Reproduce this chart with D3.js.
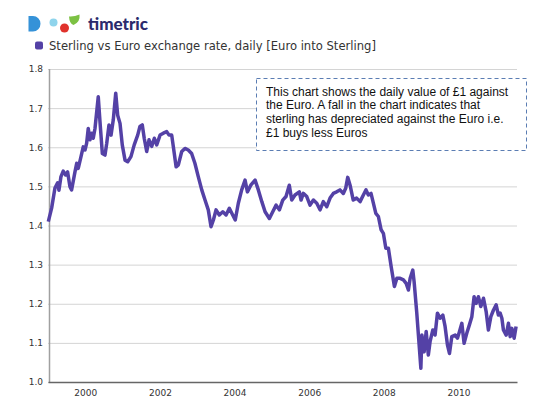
<!DOCTYPE html>
<html>
<head>
<meta charset="utf-8">
<script src="https://cdn.jsdelivr.net/npm/d3@7"></script>
<style>
html,body{margin:0;padding:0;background:#fff;}
svg{display:block;}
</style>
</head>
<body>
<svg id="chart" width="552" height="410"></svg>
<script>
const seriesName = "Sterling vs Euro exchange rate, daily [Euro into Sterling]";
const annotationLines = [
  "This chart shows the daily value of £1 against",
  "the Euro. A fall in the chart indicates that",
  "sterling has depreciated against the Euro i.e.",
  "£1 buys less Euros"
];
const yTicks = [1.0,1.1,1.2,1.3,1.4,1.5,1.6,1.7,1.8];
const xTickYears = [2000,2002,2004,2006,2008,2010];

const dates = [
"1999-01-04","1999-02-06","1999-03-10","1999-04-05","1999-04-18","1999-05-08","1999-05-30","1999-06-23","1999-07-12","1999-08-04",
"1999-08-20","1999-09-22","1999-10-09","1999-10-24","1999-11-20","1999-12-12","1999-12-29","2000-01-14","2000-01-30","2000-02-16",
"2000-03-04","2000-03-19","2000-04-05","2000-05-07","2000-05-24","2000-06-16","2000-07-12","2000-07-29","2000-08-20","2000-09-09",
"2000-10-01","2000-10-25","2000-11-13","2000-12-06","2000-12-28","2001-01-24","2001-02-19","2001-03-23","2001-04-24","2001-05-28",
"2001-06-19","2001-07-12","2001-07-31","2001-08-24","2001-09-16","2001-10-12","2001-11-07","2001-11-30","2002-01-02","2002-02-03",
"2002-03-08","2002-03-31","2002-04-26","2002-05-12","2002-06-08","2002-06-30","2002-08-02","2002-09-03","2002-10-05","2002-11-07",
"2002-12-09","2003-01-11","2003-02-14","2003-03-18","2003-04-19","2003-05-16","2003-06-08","2003-07-04","2003-08-05","2003-09-08",
"2003-10-10","2003-11-11","2003-12-14","2004-01-08","2004-02-07","2004-03-11","2004-04-13","2004-05-06","2004-06-08","2004-07-20",
"2004-08-21","2004-09-24","2004-10-26","2004-12-07","2005-01-09","2005-02-11","2005-03-15","2005-04-17","2005-05-19","2005-06-20",
"2005-07-14","2005-08-15","2005-09-26","2005-10-13","2005-11-04","2005-12-08","2006-01-09","2006-02-11","2006-03-16","2006-04-17",
"2006-05-19","2006-06-22","2006-07-24","2006-08-25","2006-09-27","2006-10-29","2006-12-01","2006-12-24","2007-01-13","2007-02-05",
"2007-03-08","2007-04-10","2007-05-14","2007-06-15","2007-07-11","2007-08-03","2007-08-29","2007-09-21","2007-10-15","2007-11-09",
"2007-12-06","2007-12-28","2008-01-21","2008-02-15","2008-03-13","2008-04-14","2008-05-08","2008-06-09","2008-07-11","2008-08-07",
"2008-08-29","2008-09-15","2008-10-11","2008-10-24","2008-11-19","2008-12-05","2008-12-29","2009-01-08","2009-01-30","2009-02-19",
"2009-03-12","2009-03-29","2009-04-25","2009-05-17","2009-06-09","2009-07-05","2009-08-01","2009-08-23","2009-09-15","2009-10-05",
"2009-10-28","2009-11-30","2009-12-22","2010-01-11","2010-02-03","2010-02-25","2010-03-24","2010-04-18","2010-05-12","2010-06-03",
"2010-06-23","2010-07-15","2010-08-08","2010-09-03","2010-09-29","2010-10-21","2010-11-14","2010-12-10","2011-01-05","2011-01-27",
"2011-02-13","2011-03-02","2011-03-17","2011-04-13","2011-05-05","2011-05-22","2011-06-08","2011-06-30","2011-07-19"
];
const rates = [
1.410,1.445,1.496,1.509,1.490,1.525,1.539,1.529,1.537,1.499,
1.491,1.537,1.559,1.546,1.576,1.601,1.593,1.610,1.648,1.619,
1.636,1.623,1.648,1.729,1.665,1.584,1.580,1.610,1.657,1.631,
1.670,1.738,1.682,1.661,1.606,1.567,1.563,1.576,1.606,1.631,
1.653,1.657,1.623,1.589,1.619,1.602,1.623,1.606,1.631,1.636,
1.640,1.631,1.631,1.601,1.550,1.555,1.589,1.597,1.593,1.584,
1.559,1.525,1.491,1.465,1.440,1.397,1.414,1.440,1.427,1.435,
1.427,1.444,1.427,1.414,1.457,1.491,1.516,1.486,1.503,1.516,
1.491,1.461,1.435,1.418,1.435,1.452,1.440,1.465,1.474,1.503,
1.465,1.478,1.486,1.465,1.482,1.474,1.452,1.465,1.457,1.440,
1.461,1.448,1.470,1.482,1.486,1.491,1.482,1.495,1.523,1.503,
1.465,1.470,1.461,1.478,1.491,1.478,1.482,1.457,1.431,1.423,
1.389,1.380,1.342,1.342,1.295,1.244,1.265,1.265,1.261,1.252,
1.235,1.265,1.286,1.256,1.176,1.120,1.035,1.120,1.077,1.129,
1.069,1.103,1.133,1.120,1.176,1.163,1.171,1.142,1.095,1.073,
1.116,1.120,1.112,1.129,1.150,1.099,1.125,1.146,1.167,1.218,
1.201,1.218,1.193,1.214,1.180,1.133,1.167,1.184,1.197,1.171,
1.176,1.163,1.133,1.120,1.150,1.116,1.137,1.112,1.142
];

const parse = d3.timeParse("%Y-%m-%d");
const data = dates.map((d,i)=>({date:parse(d), value:rates[i]}));

const svg = d3.select("#chart");
const lineColor = "#5441a6";
const plotLeft = 49, plotRight = 517, plotTop = 69, plotBottom = 382;

const x = d3.scaleTime()
  .domain([new Date(1999,0,1), new Date(2011,6,28)])
  .range([plotLeft-1, plotRight]);
const y = d3.scaleLinear().domain([1.0,1.8]).range([plotBottom, plotTop]);

// Logo
const logo = svg.append("g");
logo.append("path")
  .attr("d","M28.5,16 L33,16 A7.5,7.8 0 0 1 33,31.6 L28.5,31.6 Z")
  .attr("fill","#3592d8");
logo.append("circle").attr("cx",53.5).attr("cy",22.5).attr("r",4).attr("fill","#8fd4ec");
logo.append("circle").attr("cx",64.5).attr("cy",28).attr("r",4.5).attr("fill","#e0322c");
logo.append("path")
  .attr("d","M69,16.5 Q74,17 79.5,14.5 Q80.5,22 73.5,25 Q69.5,24 69,16.5 Z")
  .attr("fill","#7cc143");
logo.append("text").attr("x",88).attr("y",30)
  .attr("font-family","Lato, 'DejaVu Sans', sans-serif").attr("font-weight","900")
  .attr("font-size",17).attr("fill","#2c2a6c").text("timetric");

// Legend
svg.append("rect").attr("x",35).attr("y",41.5).attr("width",8).attr("height",8)
  .attr("rx",2).attr("fill",lineColor);
const legendText = svg.append("text").attr("x",49).attr("y",50)
  .attr("font-family","'DejaVu Sans', sans-serif").attr("font-size",11.5)
  .attr("fill","#333").text(seriesName);
{
  const w = legendText.node().getComputedTextLength();
  if (w > 0) legendText.attr("font-size", 11.5*327/w);
}

// Grid + y axis
const yAxis = d3.axisLeft(y).tickValues(yTicks).tickSize(-(plotRight-plotLeft)).tickPadding(6)
  .tickFormat(d3.format(".1f"));
const gy = svg.append("g").attr("transform",`translate(${plotLeft},0)`).call(yAxis);
gy.select(".domain").remove();
gy.selectAll(".tick line").attr("stroke","#d4d4d4").attr("stroke-width",1)
  .attr("x1",-1);
gy.selectAll(".tick text").attr("font-family","'DejaVu Sans', sans-serif")
  .attr("font-size",9).attr("fill","#333");
svg.append("line").attr("x1",plotLeft+0.5).attr("x2",plotLeft+0.5).attr("y1",plotTop).attr("y2",plotBottom)
  .attr("stroke","#a0a0a0").attr("stroke-width",1.5);

// Line
const line = d3.line().x(d=>x(d.date)).y(d=>y(d.value)).curve(d3.curveLinear);
svg.append("path").datum(data).attr("d",line).attr("fill","none")
  .attr("stroke",lineColor).attr("stroke-width",3.5).attr("stroke-linejoin","round");

// X axis
const xAxis = d3.axisBottom(x).tickValues(xTickYears.map(yr=>new Date(yr,0,1)))
  .tickSize(0).tickPadding(8).tickFormat(d3.timeFormat("%Y"));
const gx = svg.append("g").attr("transform",`translate(0,${plotBottom})`).call(xAxis);
gx.select(".domain").attr("stroke","#666").attr("stroke-width",1.5);
gx.selectAll(".tick text").attr("font-family","'DejaVu Sans', sans-serif")
  .attr("font-size",9).attr("fill","#333");

// Annotation box
svg.append("rect").attr("x",256.5).attr("y",78.5).attr("width",270).attr("height",72)
  .attr("fill","#fff").attr("stroke","#5b7db3").attr("stroke-width",1)
  .attr("stroke-dasharray","4,3");
const ann = svg.append("text").attr("font-family","'Liberation Sans', Arial, sans-serif")
  .attr("font-size",12).attr("fill","#111");
annotationLines.forEach((t,i)=>{
  ann.append("tspan").attr("x",266).attr("y",95.5+i*13.7).text(t);
});
</script>
</body>
</html>
